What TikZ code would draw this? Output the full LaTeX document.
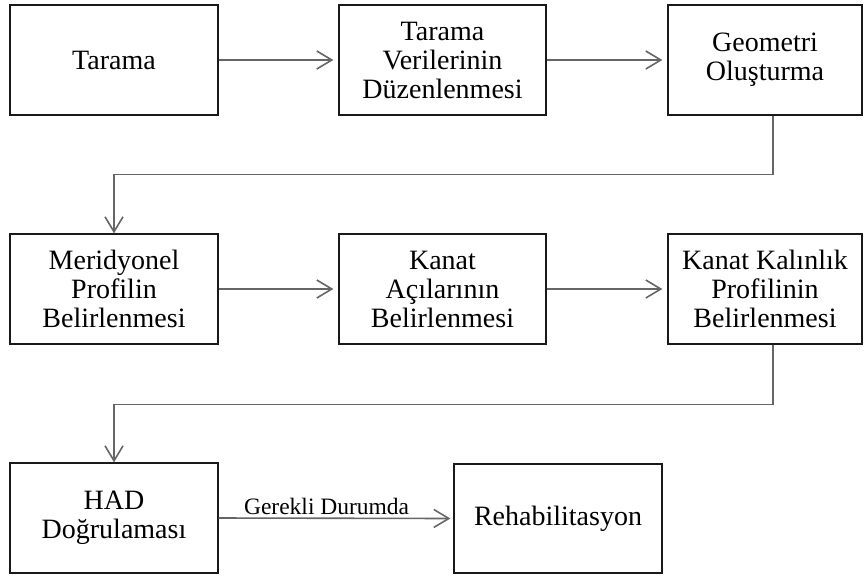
\documentclass[tikz,border=0pt]{standalone}
\usepackage{fontspec}
\setmainfont{Liberation Serif}
\usetikzlibrary{arrows.meta}
\begin{document}
\begin{tikzpicture}[x=1pt,y=1pt,
  box/.style={draw=black!90,line width=1.3pt,rectangle,minimum height=110pt,align=center,
    inner sep=2pt,font=\fontsize{28}{29}\selectfont},
  arr/.style={draw=black!60,line width=1.6pt,-{Straight Barb[length=15pt,width=18pt,line width=1.6pt]}},
  lbl/.style={font=\fontsize{23.5}{25}\selectfont}]
\useasboundingbox (0,0) rectangle (866,-576);
\node[box,minimum width=208pt] (tar) at (114,-60) {Tarama};
\node[box,minimum width=207pt] (ver) at (442.5,-60) {Tarama\\Verilerinin\\Düzenlenmesi};
\node[box,minimum width=194pt] (geo) at (765,-60) {Geometri\\Oluşturma};
\node[box,minimum width=208pt] (mer) at (114,-289) {Meridyonel\\Profilin\\Belirlenmesi};
\node[box,minimum width=207pt] (aci) at (442.5,-289) {Kanat\\Açılarının\\Belirlenmesi};
\node[box,minimum width=194pt] (kal) at (765,-289) {Kanat Kalınlık\\Profilinin\\Belirlenmesi};
\node[box,minimum width=208pt] (had) at (114,-518) {HAD\\Doğrulaması};
\node[box,minimum width=208pt,minimum height=109pt] (reh) at (558,-518.5) {Rehabilitasyon};
\draw[arr,shorten >=5pt] (tar) -- (ver);
\draw[arr,shorten >=5pt] (ver) -- (geo);
\draw[arr,shorten >=5pt] (mer) -- (aci);
\draw[arr,shorten >=5pt] (aci) -- (kal);
\draw[arr] ([xshift=8pt]geo.south) -- ++(0,-59) -| (mer.north);
\draw[arr] ([xshift=8pt]kal.south) -- ++(0,-60) -| (had.north);
\draw[arr,shorten >=3pt] (had.east) -- node[lbl,above,pos=0.46,inner sep=3pt] (gd) {Gerekli Durumda} (reh.west);
\end{tikzpicture}
\end{document}
